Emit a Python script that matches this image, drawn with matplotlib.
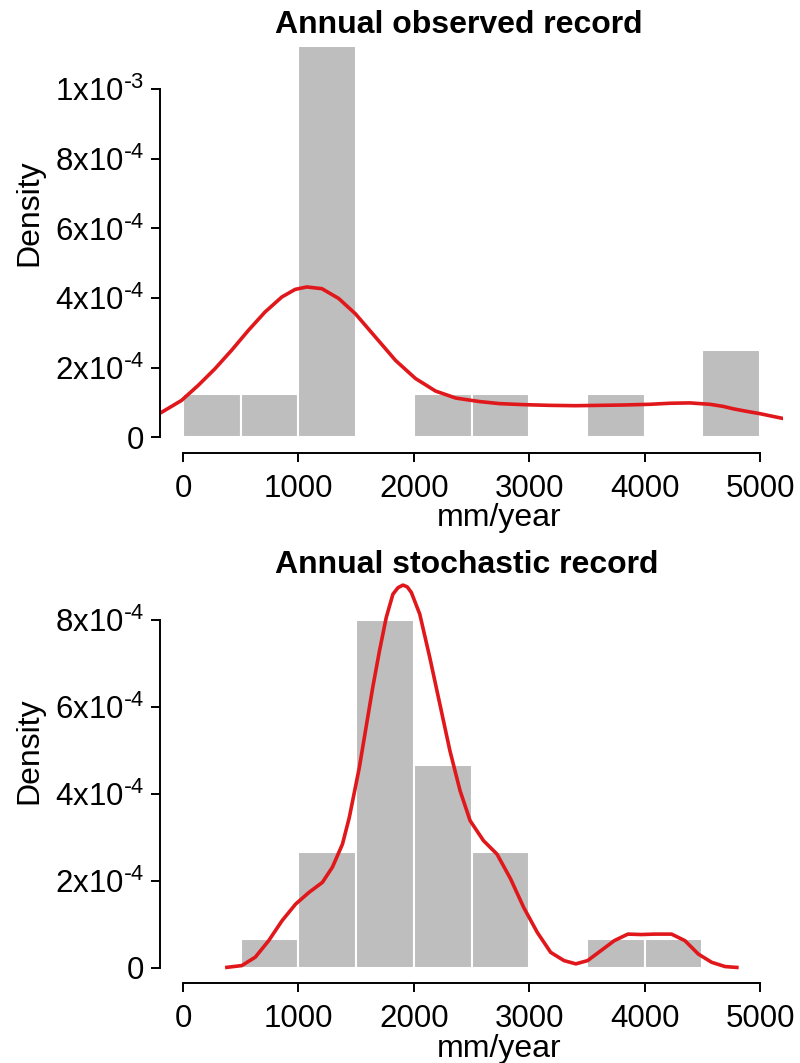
import matplotlib
matplotlib.use("Agg")
import matplotlib.pyplot as plt
import numpy as np

plt.rcParams["font.family"] = ["Liberation Sans", "DejaVu Sans"]
plt.rcParams["mathtext.default"] = "regular"

# histogram bins (mm/year) and densities
bin_edges = [0, 500, 1000, 1500, 2000, 2500, 3000, 3500, 4000, 4500, 5000]
obs_density = [1.25e-4, 1.25e-4, 1.125e-3, 0, 1.25e-4, 1.25e-4, 0, 1.25e-4, 0, 2.5e-4]
sto_density = [0, 6.67e-5, 2.67e-4, 8.0e-4, 4.67e-4, 2.67e-4, 0, 6.67e-5, 6.67e-5, 0]

# kernel density curves
obs_kde_x = [-217, -14, 130, 276, 420, 565, 710, 855, 971, 1072, 1203, 1348, 1493,
             1667, 1841, 2014, 2188, 2362, 2565, 2739, 2950, 3174, 3400, 3609, 3820,
             4043, 4220, 4391, 4565, 4680, 4768, 4880, 5000, 5100, 5203]
obs_kde_y = [6.6e-5, 1.06e-4, 1.49e-4, 1.97e-4, 2.5e-4, 3.07e-4, 3.6e-4, 4.03e-4,
             4.25e-4, 4.32e-4, 4.27e-4, 3.99e-4, 3.55e-4, 2.88e-4, 2.21e-4, 1.69e-4,
             1.33e-4, 1.13e-4, 1.03e-4, 9.7e-5, 9.4e-5, 9.2e-5, 9.1e-5, 9.2e-5, 9.3e-5,
             9.5e-5, 9.8e-5, 9.9e-5, 9.5e-5, 8.9e-5, 8.2e-5, 7.5e-5, 6.8e-5, 6.1e-5, 5.4e-5]
sto_kde_x = [364, 509, 626, 742, 858, 975, 1091, 1207, 1294, 1381, 1440, 1527, 1585,
             1643, 1702, 1760, 1818, 1862, 1905, 1942, 1978, 2051, 2138, 2225, 2312,
             2400, 2487, 2603, 2720, 2836, 2952, 3069, 3185, 3301, 3403, 3505, 3621,
             3737, 3854, 3970, 4086, 4232, 4348, 4465, 4581, 4697, 4814]
sto_kde_y = [0, 4.6e-6, 2.4e-5, 6.2e-5, 1.08e-4, 1.46e-4, 1.73e-4, 1.96e-4, 2.31e-4,
             2.84e-4, 3.45e-4, 4.6e-4, 5.52e-4, 6.44e-4, 7.29e-4, 8.05e-4, 8.59e-4,
             8.74e-4, 8.8e-4, 8.76e-4, 8.63e-4, 8.13e-4, 7.13e-4, 6.06e-4, 4.99e-4,
             4.07e-4, 3.38e-4, 2.92e-4, 2.61e-4, 2.05e-4, 1.38e-4, 8.1e-5, 3.5e-5,
             1.6e-5, 8.5e-6, 1.6e-5, 3.9e-5, 6.2e-5, 7.7e-5, 7.6e-5, 7.7e-5, 7.7e-5,
             6.2e-5, 3.1e-5, 1.2e-5, 2.3e-6, 0]

sup = lambda m, e: m + "x10$^{\\text{-}" + e + "}$"
obs_yticks = [0, 2e-4, 4e-4, 6e-4, 8e-4, 1e-3]
obs_ylabels = ["0", sup("2", "4"), sup("4", "4"), sup("6", "4"), sup("8", "4"), sup("1", "3")]
sto_yticks = [0, 2e-4, 4e-4, 6e-4, 8e-4]
sto_ylabels = ["0", sup("2", "4"), sup("4", "4"), sup("6", "4"), sup("8", "4")]
xticks = [0, 1000, 2000, 3000, 4000, 5000]

fig = plt.figure(figsize=(8, 10.63), dpi=100)
ax1 = fig.add_axes([0.2, 0.5738, 0.779, 0.398])
ax2 = fig.add_axes([0.2, 0.0753, 0.779, 0.3908])


def panel(ax, dens, kx, ky, yticks, ylabels, ytop, title, title_xy, ylab_y, xlab_y):
    lefts = bin_edges[:-1]
    widths = np.diff(bin_edges)
    ax.bar(lefts, dens, width=widths, align="edge", color="#bebebe",
           edgecolor="white", linewidth=1.5, zorder=1)
    ax.plot(kx, ky, color="#e0181b", lw=2.6, zorder=2,
            solid_joinstyle="round", solid_capstyle="butt")
    pad = 0.04 * ytop
    ax.set_ylim(-pad, ytop + pad)
    ax.set_xlim(-200, 5200)
    for s in ["top", "right"]:
        ax.spines[s].set_visible(False)
    ax.spines["left"].set_bounds(0, yticks[-1])
    ax.spines["bottom"].set_bounds(0, 5000)
    for s in ["left", "bottom"]:
        ax.spines[s].set_linewidth(1.4)
    ax.set_yticks(yticks)
    ax.set_yticklabels(ylabels)
    ax.set_xticks(xticks)
    ax.tick_params(labelsize=22.5, length=6.5, width=1.4, pad=5)
    ax.tick_params(axis="x", pad=8.5)
    ax.set_ylabel("Density", fontsize=23)
    ax.yaxis.set_label_coords(-0.185, ylab_y)
    ax.set_xlabel("mm/year", fontsize=23, va="top")
    ax.xaxis.set_label_coords(0.544, xlab_y)
    ax.set_title(title, fontsize=23, fontweight="bold",
                 x=title_xy[0], y=title_xy[1], pad=0)
    ax.patch.set_visible(False)


panel(ax1, obs_density, obs_kde_x, obs_kde_y, obs_yticks, obs_ylabels,
      1.125e-3, "Annual observed record", (0.479, 0.993), 0.567, -0.118)
panel(ax2, sto_density, sto_kde_x, sto_kde_y, sto_yticks, sto_ylabels,
      8.85e-4, "Annual stochastic record", (0.492, 0.987), 0.56, -0.124)

fig.savefig("out.png", dpi=100)
